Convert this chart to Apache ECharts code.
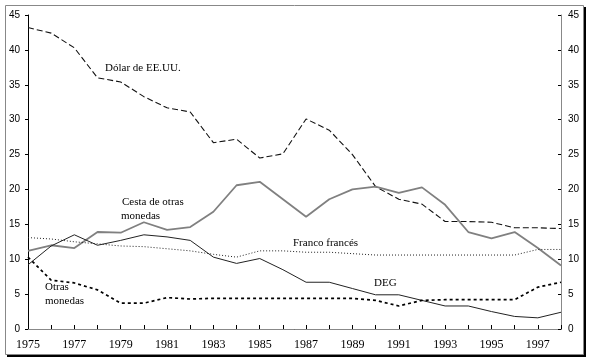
<!DOCTYPE html>
<html>
<head>
<meta charset="utf-8">
<script src="https://cdn.jsdelivr.net/npm/echarts@6/dist/echarts.min.js"></script>
<style>
html,body{margin:0;padding:0;background:#fff;}
#c{width:590px;height:362px;}
</style>
</head>
<body>
<div id="c"></div>
<script>
const years = ['1975','1976','1977','1978','1979','1980','1981','1982','1983','1984','1985','1986','1987','1988','1989','1990','1991','1992','1993','1994','1995','1996','1997','1998'];
const dolar = [43.2, 42.4, 40.3, 36.0, 35.4, 33.3, 31.7, 31.1, 26.7, 27.2, 24.5, 25.1, 30.1, 28.5, 25.0, 20.4, 18.6, 17.9, 15.4, 15.4, 15.3, 14.5, 14.5, 14.4];
const cesta = [11.2, 12.0, 11.6, 13.9, 13.8, 15.3, 14.2, 14.6, 16.8, 20.6, 21.1, 18.6, 16.1, 18.6, 20.0, 20.4, 19.5, 20.3, 17.8, 13.9, 13.0, 13.9, 11.6, 9.1];
const deg = [9.2, 11.9, 13.5, 12.0, 12.7, 13.5, 13.2, 12.7, 10.3, 9.4, 10.1, 8.5, 6.7, 6.7, 5.8, 4.9, 4.9, 4.1, 3.3, 3.3, 2.5, 1.8, 1.6, 2.4];
const franco = [13.1, 12.9, 12.5, 12.2, 11.9, 11.8, 11.5, 11.2, 10.7, 10.3, 11.2, 11.2, 11.0, 11.0, 10.8, 10.6, 10.6, 10.6, 10.6, 10.6, 10.6, 10.6, 11.4, 11.4];
const otras = [10.3, 7.0, 6.6, 5.6, 3.7, 3.7, 4.5, 4.3, 4.4, 4.4, 4.4, 4.4, 4.4, 4.4, 4.4, 4.1, 3.3, 4.1, 4.2, 4.2, 4.2, 4.2, 6.0, 6.7];
const yMin = 0, yMax = 45, yStep = 5;

const serif = '"Liberation Serif", "Times New Roman", serif';
const sans = '"Liberation Sans", Arial, sans-serif';

const chart = echarts.init(document.getElementById('c'), null, {renderer: 'canvas'});
function txt(t, x, y) {
  return {type: 'text', x: x, y: y, style: {text: t, font: '11px ' + serif, fill: '#000', textVerticalAlign: 'middle'}};
}
chart.setOption({
  animation: false,
  backgroundColor: '#fff',
  grid: {left: 28, right: 29, top: 15, bottom: 33, containLabel: false},
  xAxis: [{
    type: 'category', data: years, boundaryGap: false,
    axisLine: {lineStyle: {color: '#000', width: 1}},
    axisTick: {inside: true, length: 4, interval: 0, lineStyle: {color: '#000'}},
    axisLabel: {interval: 1, margin: 10, fontFamily: serif, fontSize: 12, color: '#000'},
    splitLine: {show: false}
  }, {
    type: 'category', data: years, boundaryGap: false, position: 'top',
    axisLine: {lineStyle: {color: '#888', width: 1}},
    axisTick: {show: false}, axisLabel: {show: false}, splitLine: {show: false}
  }],
  yAxis: [{
    type: 'value', min: yMin, max: yMax, interval: yStep, position: 'left',
    axisLine: {show: true, lineStyle: {color: '#000'}},
    axisTick: {show: true, length: 3, lineStyle: {color: '#000'}},
    axisLabel: {margin: 8, fontFamily: sans, fontSize: 10, color: '#000'},
    splitLine: {show: false}
  }, {
    type: 'value', min: yMin, max: yMax, interval: yStep, position: 'right',
    axisLine: {show: true, lineStyle: {color: '#888'}},
    axisTick: {show: true, inside: true, length: 3, lineStyle: {color: '#000'}},
    axisLabel: {margin: 7, fontFamily: sans, fontSize: 10, color: '#000'},
    splitLine: {show: false}
  }],
  series: [
    {name: 'Dólar de EE.UU.', type: 'line', data: dolar, symbol: 'none',
     lineStyle: {color: '#111', width: 1.1, type: [6, 3]}},
    {name: 'Cesta de otras monedas', type: 'line', data: cesta, symbol: 'none',
     lineStyle: {color: '#808080', width: 1.8}},
    {name: 'Franco francés', type: 'line', data: franco, symbol: 'none',
     lineStyle: {color: '#222', width: 1, type: [1, 2]}},
    {name: 'DEG', type: 'line', data: deg, symbol: 'none',
     lineStyle: {color: '#222', width: 1}},
    {name: 'Otras monedas', type: 'line', data: otras, symbol: 'none',
     lineStyle: {color: '#000', width: 1.7, type: [3, 3]}}
  ],
  graphic: [
    {type: 'rect', silent: true, z: -10, shape: {x: 7, y: 7, width: 579, height: 350}, style: {fill: '#000'}},
    {type: 'rect', silent: true, z: -9, shape: {x: 5.5, y: 5.5, width: 578, height: 349}, style: {fill: '#fff', stroke: '#888', lineWidth: 1}},
    txt('Dólar de EE.UU.', 105, 68),
    txt('Cesta de otras', 122, 202),
    txt('monedas', 121, 216),
    txt('Franco francés', 293, 243),
    txt('DEG', 374, 283),
    txt('Otras', 45, 287),
    txt('monedas', 45, 301)
  ]
});
</script>
</body>
</html>
